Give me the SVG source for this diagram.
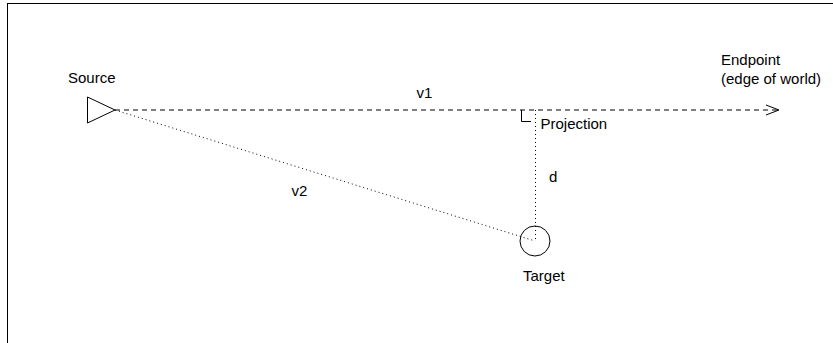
<svg xmlns="http://www.w3.org/2000/svg" width="833" height="343" viewBox="0 0 833 343">
<style>
text{font-family:"Liberation Sans",Arial,sans-serif;font-size:15px;fill:#000}
.shape{fill:none;stroke:#000;stroke-width:1}
.dash{fill:none;stroke:#000;stroke-width:1;stroke-dasharray:5,4}
.dot{fill:none;stroke:#000;stroke-width:1;stroke-dasharray:1,3}
</style>
<rect x="0" y="0" width="833" height="343" fill="#fff"/>
<rect id="frame" x="7.5" y="3.5" width="900" height="400" class="shape"/>
<g id="connectors">
<line x1="115" y1="110" x2="778" y2="110" class="dash"/>
<polyline points="766,105 779,110 766,115" class="shape"/>
<line x1="115" y1="110" x2="535" y2="241" class="dot"/>
<line x1="535.5" y1="110" x2="535.5" y2="241" class="dot"/>
<polyline points="521.5,110 521.5,121.5 531,121.5" class="shape"/>
<text x="416.5" y="98">v1</text>
<text x="291.5" y="196">v2</text>
<text x="549" y="182">d</text>
</g>
<g id="source">
<polygon points="87.5,97 87.5,123 115,110" class="shape"/>
<text x="68" y="83">Source</text>
</g>
<g id="projection">
<text x="540.5" y="129">Projection</text>
</g>
<g id="target">
<circle cx="535" cy="241" r="15" class="shape"/>
<text x="523" y="281">Target</text>
</g>
<g id="endpoint">
<text x="721" y="65">Endpoint</text>
<text x="721" y="83.5">(edge of world)</text>
</g>
</svg>
